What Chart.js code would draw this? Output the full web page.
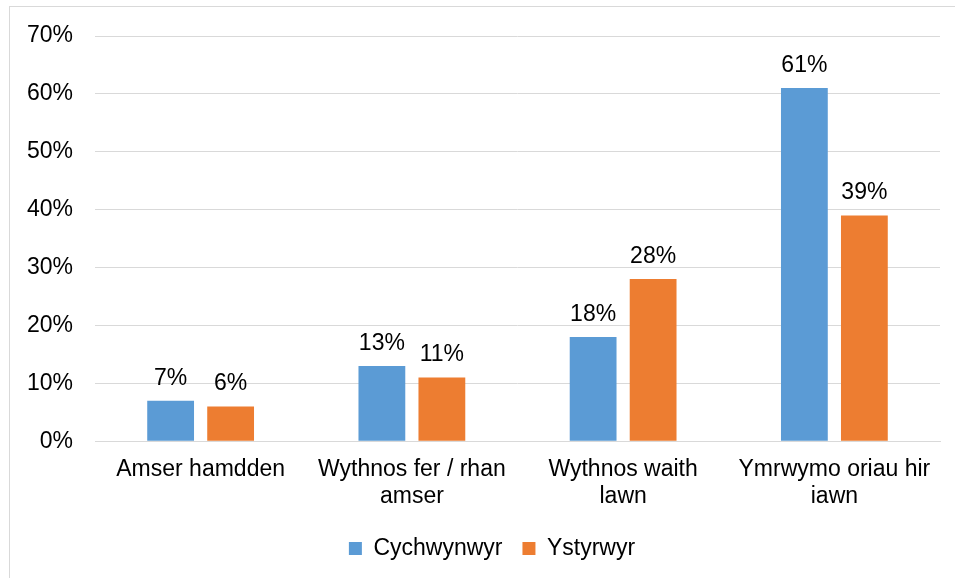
<!DOCTYPE html>
<html>
<head>
<meta charset="utf-8">
<script src="https://cdn.jsdelivr.net/npm/chart.js@4.4.1/dist/chart.umd.min.js"></script>
<style>
  html, body { margin: 0; padding: 0; background: #fff; overflow: hidden; }
  #frame { position: absolute; left: 9px; top: 6px; width: 960px; height: 590px; border: 1px solid #d9d9d9; }
  #wrap { position: absolute; left: 0; top: 0; width: 945px; height: 571px; }
</style>
</head>
<body>
<div id="frame"><div id="wrap"><canvas id="chart"></canvas></div></div>
<script>
const categories = [
  ['Amser hamdden'],
  ['Wythnos fer / rhan', 'amser'],
  ['Wythnos waith', 'lawn'],
  ['Ymrwymo oriau hir', 'iawn']
];
const cychwynwyr = [7, 13, 18, 61];
const ystyrwyr = [6, 11, 28, 39];
const yTicks = [0, 10, 20, 30, 40, 50, 60, 70];

const FONT = 'Liberation Sans, Arial, sans-serif';
const SIZE = 23;

// simple labels above each bar
const barLabels = {
  id: 'barLabels',
  afterDatasetsDraw(chart) {
    const ctx = chart.ctx;
    ctx.save();
    ctx.font = SIZE + 'px ' + FONT;
    ctx.fillStyle = '#000';
    ctx.textAlign = 'center';
    ctx.textBaseline = 'bottom';
    chart.data.datasets.forEach((ds, i) => {
      chart.getDatasetMeta(i).data.forEach((bar, j) => {
        ctx.fillText(ds.data[j] + '%', bar.x, bar.y - 11);
      });
    });
    ctx.restore();
  }
};

// legend sits a little right of centre in the original
const nudgeLegend = {
  id: 'nudgeLegend',
  afterLayout(chart) {
    chart.legend.left += 17;
    chart.legend.right += 17;
  }
};

new Chart(document.getElementById('chart'), {
  type: 'bar',
  data: {
    labels: categories,
    datasets: [
      { label: 'Cychwynwyr', data: cychwynwyr, backgroundColor: '#5b9bd5' },
      { label: 'Ystyrwyr', data: ystyrwyr, backgroundColor: '#ed7d31' }
    ]
  },
  options: {
    responsive: true,
    maintainAspectRatio: false,
    animation: false,
    categoryPercentage: 0.568,
    barPercentage: 0.78,
    layout: { padding: { top: 29, right: 15, bottom: 8, left: 0 } },
    plugins: {
      tooltip: { enabled: false },
      legend: {
        position: 'bottom',
        labels: {
          color: '#000',
          font: { family: FONT, size: SIZE },
          boxWidth: 13,
          boxHeight: 13,
          padding: 20
        }
      }
    },
    scales: {
      y: {
        min: 0,
        max: 70,
        afterBuildTicks(axis) { axis.ticks = yTicks.map(v => ({ value: v })); },
        afterFit(axis) {
          axis.width = 85;
          axis.paddingTop = 0;
          axis.paddingBottom = 0;
        },
        grid: { color: '#d9d9d9', drawTicks: false },
        border: { display: false },
        ticks: {
          color: '#000',
          font: { family: FONT, size: SIZE },
          padding: 22,
          callback: v => v + '%'
        }
      },
      x: {
        grid: { display: false },
        border: { color: '#d9d9d9' },
        ticks: {
          color: '#000',
          font: { family: FONT, size: SIZE, lineHeight: 1.17 },
          padding: 7,
          maxRotation: 0,
          autoSkip: false
        }
      }
    }
  },
  plugins: [barLabels, nudgeLegend]
});
</script>
</body>
</html>
